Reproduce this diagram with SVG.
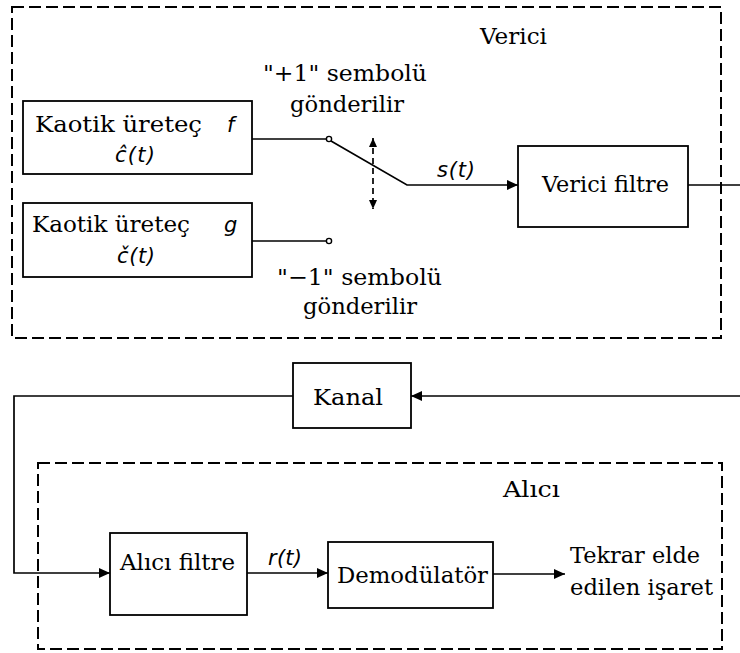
<svg xmlns="http://www.w3.org/2000/svg" width="740" height="653" viewBox="0 0 740 653">
<style>
.box{fill:#fff;stroke:#000;stroke-width:1.8}
.grp{fill:none;stroke:#000;stroke-width:2;stroke-dasharray:12,5}
.ln{fill:none;stroke:#000;stroke-width:1.7}
.t{font-family:"DejaVu Serif","Liberation Serif",serif;font-size:23px;fill:#000}
.m{font-family:"DejaVu Sans","Liberation Sans",sans-serif;font-style:italic;font-size:21px;fill:#000}
.dot{fill:#fff;stroke:#000;stroke-width:1.4}
</style>
<defs>
<marker id="ah" markerUnits="userSpaceOnUse" markerWidth="12" markerHeight="10" refX="11" refY="5" orient="auto">
<path d="M0,0 L11,5 L0,10 Z" fill="#000"/>
</marker>
<marker id="sh" markerUnits="userSpaceOnUse" markerWidth="10" markerHeight="10" refX="9" refY="5" orient="auto-start-reverse">
<path d="M0,1 L9,5 L0,9 Z" fill="#000"/>
</marker>
</defs>

<g id="verici">
<rect class="grp" x="12" y="7" width="709" height="331"/>
<text class="t" x="480" y="44" textLength="67" lengthAdjust="spacingAndGlyphs">Verici</text>
</g>
<g id="alici">
<rect class="grp" x="38" y="463" width="684" height="186"/>
<text class="t" x="503" y="497" textLength="57" lengthAdjust="spacingAndGlyphs">Alıcı</text>
</g>

<g id="connectors">
<path class="ln" d="M252,139 H326"/>
<path class="ln" d="M331,141 L407,185 H518" marker-end="url(#ah)"/>
<path class="ln" d="M252,241 H326"/>
<path class="ln" d="M373,138 V209" stroke-dasharray="6,4" marker-start="url(#sh)" marker-end="url(#sh)"/>
<path class="ln" d="M688,185 H740"/>
<path class="ln" d="M740,396 H411" marker-end="url(#ah)"/>
<path class="ln" d="M293,396 H14 V573 H110" marker-end="url(#ah)"/>
<path class="ln" d="M247,573 H328" marker-end="url(#ah)"/>
<path class="ln" d="M493,574 H565" marker-end="url(#ah)"/>
<circle class="dot" cx="329" cy="139" r="2.6"/>
<circle class="dot" cx="329" cy="241" r="2.6"/>
<text class="m" x="437" y="177" textLength="38" lengthAdjust="spacing">s(t)</text>
<text class="m" x="268" y="565" textLength="34" lengthAdjust="spacing">r(t)</text>
</g>

<g id="plus1">
<text class="t" x="263" y="81" textLength="164" lengthAdjust="spacingAndGlyphs">"+1" sembolü</text>
<text class="t" x="290" y="112" textLength="114" lengthAdjust="spacingAndGlyphs">gönderilir</text>
</g>
<g id="minus1">
<text class="t" x="277" y="285" textLength="165" lengthAdjust="spacingAndGlyphs">"−1" sembolü</text>
<text class="t" x="303" y="314" textLength="114" lengthAdjust="spacingAndGlyphs">gönderilir</text>
</g>

<g id="kaotik-f">
<rect class="box" x="23" y="101" width="229" height="73"/>
<text class="t" x="35" y="132" textLength="167" lengthAdjust="spacingAndGlyphs">Kaotik üreteç</text>
<text class="m" x="227" y="132">f</text>
<text class="m" x="115" y="162" textLength="40" lengthAdjust="spacing">ĉ(t)</text>
</g>
<g id="kaotik-g">
<rect class="box" x="23" y="203" width="229" height="74"/>
<text class="t" x="32" y="232" textLength="158" lengthAdjust="spacingAndGlyphs">Kaotik üreteç</text>
<text class="m" x="224" y="232">g</text>
<text class="m" x="117" y="263" textLength="38" lengthAdjust="spacing">č(t)</text>
</g>
<g id="verici-filtre">
<rect class="box" x="518" y="146" width="170" height="81"/>
<text class="t" x="542" y="192" textLength="127" lengthAdjust="spacingAndGlyphs">Verici filtre</text>
</g>
<g id="kanal">
<rect class="box" x="293" y="363" width="118" height="65"/>
<text class="t" x="313" y="405" textLength="70" lengthAdjust="spacingAndGlyphs">Kanal</text>
</g>
<g id="alici-filtre">
<rect class="box" x="110" y="533" width="137" height="82"/>
<text class="t" x="120" y="570" textLength="115" lengthAdjust="spacingAndGlyphs">Alıcı filtre</text>
</g>
<g id="demodulator">
<rect class="box" x="328" y="542" width="165" height="66"/>
<text class="t" x="337" y="583" textLength="151" lengthAdjust="spacingAndGlyphs">Demodülatör</text>
</g>
<g id="cikis">
<text class="t" x="570" y="563" textLength="130" lengthAdjust="spacingAndGlyphs">Tekrar elde</text>
<text class="t" x="570" y="595" textLength="143" lengthAdjust="spacingAndGlyphs">edilen işaret</text>
</g>
</svg>
